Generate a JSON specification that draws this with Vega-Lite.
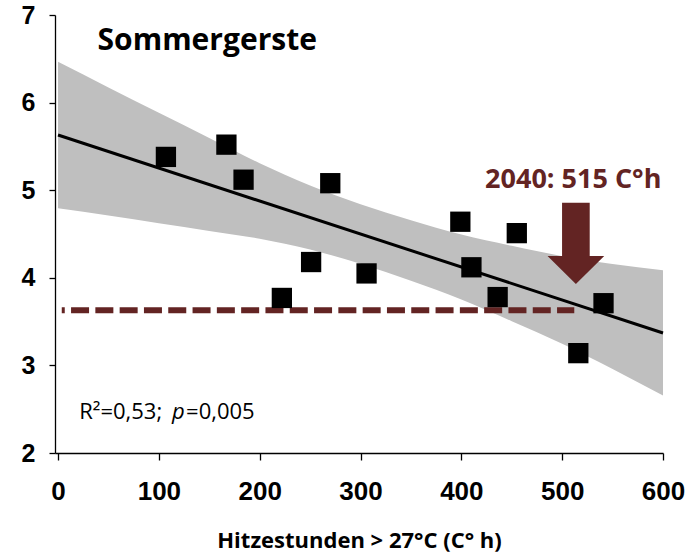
{
  "$schema": "https://vega.github.io/schema/vega-lite/v6.json",
  "width": 608,
  "height": 438,
  "autosize": {"type": "none"},
  "padding": {"left": 55, "top": 15, "right": 30, "bottom": 104},
  "background": "white",
  "config": {
    "view": {"stroke": null},
    "axis": {
      "grid": false,
      "domainColor": "#000000",
      "domainWidth": 1.3,
      "tickColor": "#000000",
      "tickWidth": 1.3,
      "labelColor": "#000000",
      "labelFont": "Liberation Sans",
      "labelFontWeight": "bold"
    }
  },
  "datasets": {
    "points": [
      {"x": 107, "y": 5.38},
      {"x": 167, "y": 5.52},
      {"x": 184, "y": 5.12},
      {"x": 222, "y": 3.77},
      {"x": 251, "y": 4.18},
      {"x": 270, "y": 5.08},
      {"x": 306, "y": 4.05},
      {"x": 399, "y": 4.64},
      {"x": 410, "y": 4.12},
      {"x": 436, "y": 3.78},
      {"x": 455, "y": 4.51},
      {"x": 516, "y": 3.14},
      {"x": 541, "y": 3.71}
    ],
    "band": [
      {"x": 0, "y": 4.795, "upper": 6.465},
      {"x": 50, "y": 4.712, "upper": 6.172},
      {"x": 100, "y": 4.623, "upper": 5.883},
      {"x": 150, "y": 4.535, "upper": 5.595},
      {"x": 200, "y": 4.447, "upper": 5.307},
      {"x": 250, "y": 4.323, "upper": 5.053},
      {"x": 300, "y": 4.16, "upper": 4.84},
      {"x": 350, "y": 3.967, "upper": 4.657},
      {"x": 400, "y": 3.753, "upper": 4.493},
      {"x": 450, "y": 3.505, "upper": 4.365},
      {"x": 500, "y": 3.247, "upper": 4.247},
      {"x": 550, "y": 2.958, "upper": 4.158},
      {"x": 600, "y": 2.655, "upper": 4.085}
    ],
    "fit": [
      {"x": 0, "y": 5.63},
      {"x": 600, "y": 3.37}
    ],
    "threshold": [
      {"x": 3.7, "y": 3.63},
      {"x": 512, "y": 3.63}
    ],
    "notes": [
      {"kind": "arrow", "x": 513.6, "y": 4.394, "label": ""},
      {"kind": "title", "x": 148, "y": 6.6, "label": "Sommergerste"},
      {"kind": "projection", "x": 511, "y": 5.02, "label": "2040: 515 C°h"},
      {"kind": "stat", "x": 21, "y": 2.385, "label": "R²=0,53;"},
      {"kind": "statItalic", "x": 113, "y": 2.385, "label": "p"},
      {"kind": "stat", "x": 127, "y": 2.385, "label": "=0,005"}
    ]
  },
  "encoding": {
    "x": {
      "field": "x",
      "type": "quantitative",
      "scale": {"domain": [-3, 600], "nice": false, "zero": false},
      "axis": {
        "values": [0, 100, 200, 300, 400, 500, 600],
        "title": "Hitzestunden > 27°C (C° h)",
        "titleFont": "Open Sans",
        "titleFontWeight": "bold",
        "titleFontSize": 22,
        "titleColor": "#000000",
        "titleBaseline": "alphabetic",
        "titleAlign": "center",
        "titleX": 304,
        "titleY": 94,
        "tickSize": 7,
        "labelPadding": 18,
        "labelFontSize": 26,
        "labelFlush": false
      }
    },
    "y": {
      "field": "y",
      "type": "quantitative",
      "scale": {"domain": [2, 7], "nice": false, "zero": false},
      "axis": {
        "values": [2, 3, 4, 5, 6, 7],
        "title": null,
        "tickSize": 6,
        "labelPadding": 14,
        "labelFontSize": 25,
        "labelFlush": false
      }
    }
  },
  "layer": [
    {
      "data": {"name": "band"},
      "mark": {"type": "area", "color": "#BFBFBF", "opacity": 1, "interpolate": "monotone"},
      "encoding": {"y2": {"field": "upper"}}
    },
    {
      "data": {"name": "fit"},
      "mark": {"type": "line", "color": "#000000", "strokeWidth": 3}
    },
    {
      "data": {"name": "threshold"},
      "mark": {"type": "line", "color": "#632423", "strokeWidth": 6, "strokeDash": [18, 6.3], "strokeDashOffset": 15, "strokeCap": "butt"}
    },
    {
      "data": {"name": "points"},
      "mark": {"type": "point", "shape": "square", "filled": true, "size": 412, "color": "#000000", "opacity": 1}
    },
    {
      "data": {"name": "notes"},
      "transform": [{"filter": "datum.kind === 'arrow'"}],
      "mark": {
        "type": "point",
        "shape": "M-0.34,-1L0.34,-1L0.34,0.312L0.697,0.312L0,1L-0.697,0.312L-0.34,0.312Z",
        "filled": true,
        "size": 6610,
        "color": "#632423",
        "opacity": 1,
        "strokeWidth": 0
      }
    },
    {
      "data": {"name": "notes"},
      "transform": [{"filter": "datum.kind === 'title'"}],
      "mark": {"type": "text", "font": "Open Sans", "fontWeight": "bold", "fontSize": 30, "align": "center", "baseline": "alphabetic", "color": "#000000"},
      "encoding": {"text": {"field": "label"}}
    },
    {
      "data": {"name": "notes"},
      "transform": [{"filter": "datum.kind === 'projection'"}],
      "mark": {"type": "text", "font": "Open Sans", "fontWeight": "bold", "fontSize": 27, "align": "center", "baseline": "alphabetic", "color": "#632423"},
      "encoding": {"text": {"field": "label"}}
    },
    {
      "data": {"name": "notes"},
      "transform": [{"filter": "datum.kind === 'stat'"}],
      "mark": {"type": "text", "font": "Open Sans", "fontSize": 22, "align": "left", "baseline": "alphabetic", "color": "#000000"},
      "encoding": {"text": {"field": "label"}}
    },
    {
      "data": {"name": "notes"},
      "transform": [{"filter": "datum.kind === 'statItalic'"}],
      "mark": {"type": "text", "font": "Open Sans", "fontStyle": "italic", "fontSize": 22, "align": "left", "baseline": "alphabetic", "color": "#000000"},
      "encoding": {"text": {"field": "label"}}
    }
  ]
}
